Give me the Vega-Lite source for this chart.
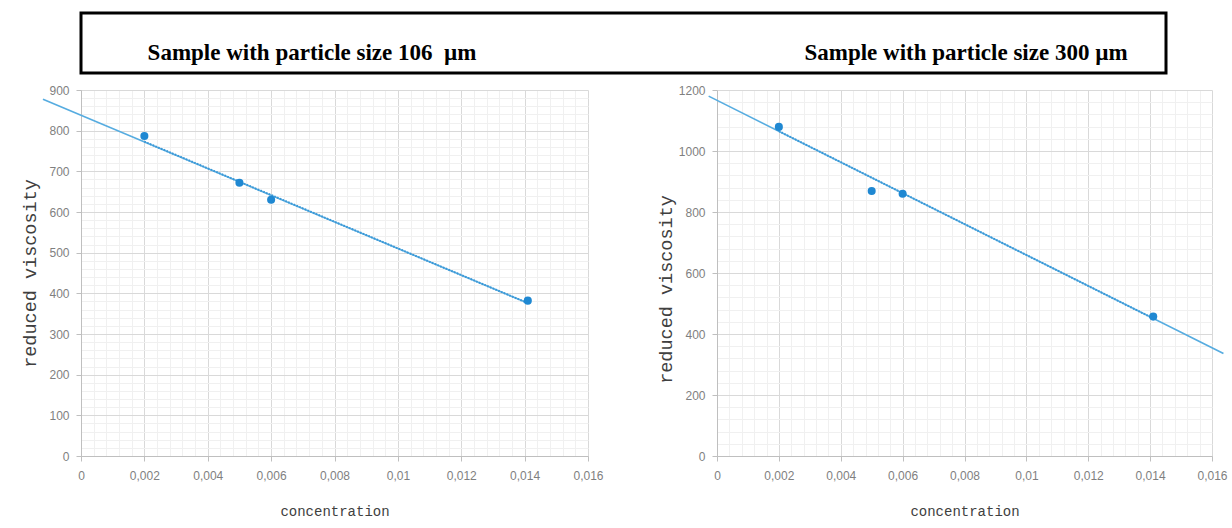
{
  "$schema": "https://vega.github.io/schema/vega-lite/v6.json",
  "background": "white",
  "padding": {"left": 20, "top": 11, "right": 0, "bottom": 0},
  "spacing": 9,
  "config": {
    "view": {"stroke": null},
    "axis": {
      "labelFont": "Liberation Sans",
      "labelFontSize": 12,
      "labelColor": "#7f7f7f",
      "labelFlush": false,
      "labelOverlap": false,
      "titleFont": "Liberation Mono",
      "titleFontWeight": "normal",
      "titleColor": "#404040",
      "tickColor": "#bfbfbf",
      "tickSize": 5,
      "domainColor": "#bfbfbf",
      "grid": true
    }
  },
  "vconcat": [
    {
      "width": 1085,
      "height": 60,
      "view": {"stroke": "black", "strokeWidth": 3},
      "data": {"values": [
        {"sample": "106", "label": "Sample with particle size 106\u00a0 µm"},
        {"sample": "300", "label": "Sample with particle size 300 µm"}
      ]},
      "mark": {"type": "text", "font": "Liberation Serif", "fontWeight": "bold", "fontSize": 23, "baseline": "middle", "align": "center", "color": "#000000", "dy": 10},
      "encoding": {
        "x": {"field": "sample", "type": "nominal", "scale": {"type": "point", "padding": 0.3295, "align": 0.536}, "axis": null},
        "text": {"field": "label"}
      }
    },
    {
      "hconcat": [
        {
          "width": 507,
          "height": 366,
          "data": {"values": [
            {"kind": "point", "c": 0.002, "v": 787},
            {"kind": "point", "c": 0.005, "v": 672},
            {"kind": "point", "c": 0.006, "v": 630},
            {"kind": "point", "c": 0.0141, "v": 382},
            {"kind": "trend", "c": -0.0012, "v": 877},
            {"kind": "trend", "c": 0.0141, "v": 376},
            {"kind": "fit", "c": 0.002, "v": 773},
            {"kind": "fit", "c": 0.0141, "v": 376}
          ]},
          "encoding": {
            "x": {"field": "c", "type": "quantitative",
              "scale": {"domain": [0, 0.016], "nice": false, "zero": false},
              "axis": {
                "title": "concentration", "titleFontSize": 14, "titlePadding": 23, "labelPadding": 9,
                "values": [0,0.0004,0.0008,0.0012,0.0016,0.002,0.0024,0.0028,0.0032,0.0036,0.004,0.0044,0.0048,0.0052,0.0056,0.006,0.0064,0.0068,0.0072,0.0076,0.008,0.0084,0.0088,0.0092,0.0096,0.01,0.0104,0.0108,0.0112,0.0116,0.012,0.0124,0.0128,0.0132,0.0136,0.014,0.0144,0.0148,0.0152,0.0156,0.016],
                "labelExpr": "abs(datum.value*500 - round(datum.value*500)) < 1e-6 ? replace(toString(datum.value), '.', ',') : ''",
                "gridColor": {"condition": {"test": "abs(datum.value*500 - round(datum.value*500)) < 1e-6", "value": "#d9d9d9"}, "value": "#f0f0f0"},
                "tickOpacity": {"condition": {"test": "abs(datum.value*500 - round(datum.value*500)) < 1e-6", "value": 1}, "value": 0}
              }},
            "y": {"field": "v", "type": "quantitative",
              "scale": {"domain": [0, 900], "nice": false},
              "axis": {
                "title": "reduced viscosity", "titleFontSize": 18.5, "titlePadding": 9, "labelPadding": 7,
                "values": [0,20,40,60,80,100,120,140,160,180,200,220,240,260,280,300,320,340,360,380,400,420,440,460,480,500,520,540,560,580,600,620,640,660,680,700,720,740,760,780,800,820,840,860,880,900],
                "labelExpr": "datum.value % 100 == 0 ? toString(datum.value) : ''",
                "gridColor": {"condition": {"test": "datum.value % 100 == 0", "value": "#d9d9d9"}, "value": "#f0f0f0"},
                "tickOpacity": {"condition": {"test": "datum.value % 100 == 0", "value": 1}, "value": 0}
              }}
          },
          "layer": [
            {"transform": [{"filter": "datum.kind == 'trend'"}], "mark": {"type": "line", "color": "#56ace0", "strokeWidth": 1.6}},
            {"transform": [{"filter": "datum.kind == 'fit'"}], "mark": {"type": "line", "color": "#3b97d6", "strokeWidth": 2, "strokeDash": [1.5, 1.5]}},
            {"transform": [{"filter": "datum.kind == 'point'"}], "mark": {"type": "point", "filled": true, "size": 65, "color": "#1f88d2", "opacity": 1}}
          ]
        },
        {
          "width": 495,
          "height": 366,
          "data": {"values": [
            {"kind": "point", "c": 0.002, "v": 1079},
            {"kind": "point", "c": 0.005, "v": 869},
            {"kind": "point", "c": 0.006, "v": 860},
            {"kind": "point", "c": 0.0141, "v": 457},
            {"kind": "trend", "c": -0.00027, "v": 1180},
            {"kind": "trend", "c": 0.01637, "v": 336},
            {"kind": "fit", "c": 0.002, "v": 1065},
            {"kind": "fit", "c": 0.0141, "v": 451}
          ]},
          "encoding": {
            "x": {"field": "c", "type": "quantitative",
              "scale": {"domain": [0, 0.016], "nice": false, "zero": false},
              "axis": {
                "title": "concentration", "titleFontSize": 14, "titlePadding": 23, "labelPadding": 9,
                "values": [0,0.0004,0.0008,0.0012,0.0016,0.002,0.0024,0.0028,0.0032,0.0036,0.004,0.0044,0.0048,0.0052,0.0056,0.006,0.0064,0.0068,0.0072,0.0076,0.008,0.0084,0.0088,0.0092,0.0096,0.01,0.0104,0.0108,0.0112,0.0116,0.012,0.0124,0.0128,0.0132,0.0136,0.014,0.0144,0.0148,0.0152,0.0156,0.016],
                "labelExpr": "abs(datum.value*500 - round(datum.value*500)) < 1e-6 ? replace(toString(datum.value), '.', ',') : ''",
                "gridColor": {"condition": {"test": "abs(datum.value*500 - round(datum.value*500)) < 1e-6", "value": "#d9d9d9"}, "value": "#f0f0f0"},
                "tickOpacity": {"condition": {"test": "abs(datum.value*500 - round(datum.value*500)) < 1e-6", "value": 1}, "value": 0}
              }},
            "y": {"field": "v", "type": "quantitative",
              "scale": {"domain": [0, 1200], "nice": false},
              "axis": {
                "title": "reduced viscosity", "titleFontSize": 18.5, "titlePadding": 3, "labelPadding": 7, "titleY": 199,
                "values": [0,40,80,120,160,200,240,280,320,360,400,440,480,520,560,600,640,680,720,760,800,840,880,920,960,1000,1040,1080,1120,1160,1200],
                "labelExpr": "datum.value % 200 == 0 ? toString(datum.value) : ''",
                "gridColor": {"condition": {"test": "datum.value % 200 == 0", "value": "#d9d9d9"}, "value": "#f0f0f0"},
                "tickOpacity": {"condition": {"test": "datum.value % 200 == 0", "value": 1}, "value": 0}
              }}
          },
          "layer": [
            {"transform": [{"filter": "datum.kind == 'trend'"}], "mark": {"type": "line", "color": "#56ace0", "strokeWidth": 1.6}},
            {"transform": [{"filter": "datum.kind == 'fit'"}], "mark": {"type": "line", "color": "#3b97d6", "strokeWidth": 2, "strokeDash": [1.5, 1.5]}},
            {"transform": [{"filter": "datum.kind == 'point'"}], "mark": {"type": "point", "filled": true, "size": 65, "color": "#1f88d2", "opacity": 1}}
          ]
        }
      ],
      "spacing": 52
    }
  ]
}
